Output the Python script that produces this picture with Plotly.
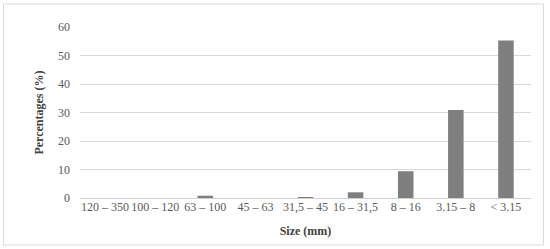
import plotly.graph_objects as go

sizes = ["120 – 350", "100 – 120", "63 – 100", "45 – 63", "31,5 – 45",
         "16 – 31,5", "8 – 16", "3.15 – 8", "< 3.15"]
percentages = [0, 0, 0.8, 0, 0.3, 2.0, 9.4, 30.9, 55.3]

W, H = 550, 249
ml, mr, mt, mb = 80, 19, 27, 51

fig = go.Figure(data=[go.Bar(x=sizes, y=percentages,
                             marker=dict(color="#7f7f7f", line=dict(width=0)))])

# thin frame around the whole chart (paper coords from pixel positions)
pw, ph = W - ml - mr, H - mt - mb
def px(x):
    return (x - ml) / pw
def py(y):
    return 1 - (y - mt) / ph

fig.add_shape(type="rect", xref="paper", yref="paper",
              x0=px(3.5), x1=px(543.5), y0=py(245), y1=py(4),
              line=dict(color="#d9d9d9", width=1), fillcolor="rgba(0,0,0,0)",
              layer="below")

fig.update_layout(
    width=W, height=H,
    margin=dict(l=ml, r=mr, t=mt, b=mb),
    paper_bgcolor="white", plot_bgcolor="white",
    bargap=0.69,
    showlegend=False,
    font=dict(family="Liberation Serif", size=12, color="#595959"),
    xaxis=dict(
        title=dict(text="<b>Size (mm)</b>", font=dict(size=12, color="#404040"), standoff=13),
        tickfont=dict(size=12, color="#595959"),
        tickangle=0, automargin=False,
        showgrid=False, showline=False, ticks="",
    ),
    yaxis=dict(
        title=dict(text="<b>Percentages (%)</b>", font=dict(size=12, color="#404040"), standoff=11),
        range=[0, 60], dtick=10,
        tickfont=dict(size=12, color="#595959"),
        ticklabelstandoff=9,
        gridcolor="#d9d9d9", gridwidth=1,
        zeroline=True, zerolinecolor="#d0d0d0", zerolinewidth=1,
        ticks="", showline=False,
    ),
)

fig.write_html("out.html", config={"displayModeBar": False},
               post_script="document.body.style.margin='0';")
